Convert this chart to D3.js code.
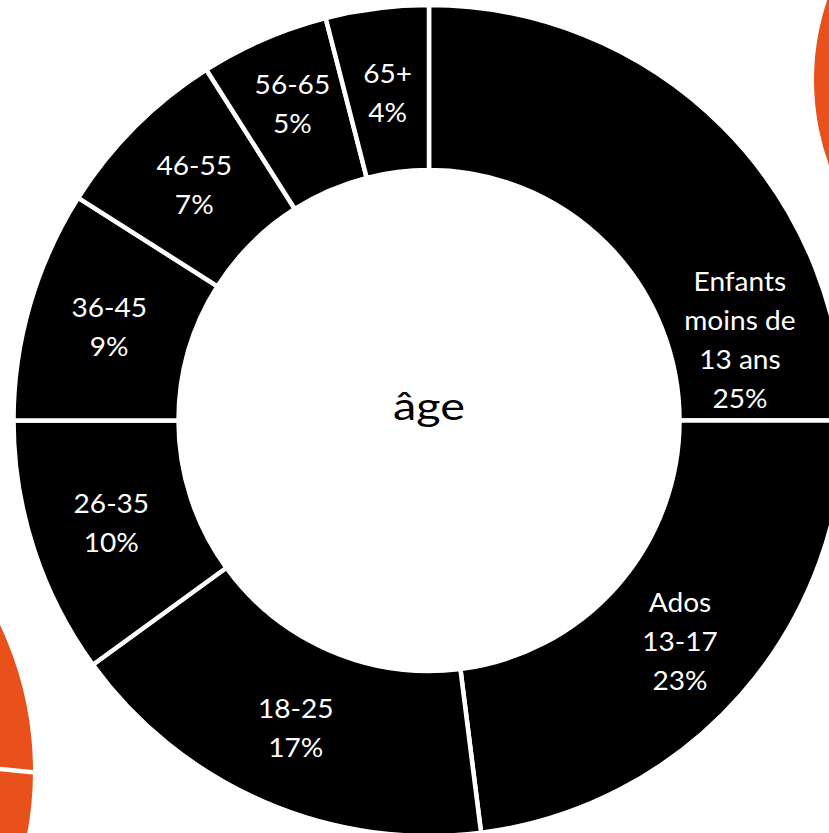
<!DOCTYPE html>
<html>
<head>
<meta charset="utf-8">
<script src="https://cdn.jsdelivr.net/npm/d3@7"></script>
<style>
  html, body { margin: 0; padding: 0; background: #fff; }
  svg { display: block; }
</style>
</head>
<body>
<svg id="chart" width="829" height="833"></svg>
<script>
// data
var categories = ['Enfants\nmoins de\n13 ans', 'Ados\n13-17', '18-25', '26-35', '36-45', '46-55', '56-65', '65+']
var values = [25, 23, 17, 10, 9, 7, 5, 4]
var title = 'âge'

// layout
var width = 829, height = 833
var cx = 429, cy = 420.5
var outerR = 415.5, innerR = 250.5
// label distance from centre, slice by slice (as placed in the original)
var labelRadius = [321, 334.6, 335.6, 334, 333, 332, 344, 330]
var lineStep = 39
var colorSlice = '#000000'
var colorOrange = '#E8501C'
var fontFamily = 'Lato, "Open Sans", sans-serif'

var svg = d3.select('#chart')

// neighbouring orange donuts, cut by the frame
svg.append('circle').attr('cx', 1064).attr('cy', 80).attr('r', 250).attr('fill', colorOrange)
svg.append('circle').attr('cx', -306).attr('cy', 771).attr('r', 339).attr('fill', colorOrange)
svg.append('line')
  .attr('x1', -10).attr('y1', 768).attr('x2', 40).attr('y2', 773)
  .attr('stroke', '#fff').attr('stroke-width', 4.5)

var g = svg.append('g').attr('transform', 'translate(' + cx + ',' + cy + ')')

var pie = d3.pie().sort(null).value(function (d) { return d })
var arcs = pie(values)
var arc = d3.arc().innerRadius(innerR).outerRadius(outerR)

g.selectAll('path.slice')
  .data(arcs)
  .enter().append('path')
  .attr('class', 'slice')
  .attr('d', arc)
  .attr('fill', colorSlice)
  .attr('stroke', '#fff')
  .attr('stroke-width', 4.5)

// label angle: mid of the slice, the first one was pushed toward the visible side
function labelPos(d, i) {
  var a = (d.startAngle + d.endAngle) / 2
  if (i === 0) a = 75.6 * Math.PI / 180
  var r = labelRadius[i]
  return [r * Math.sin(a), -r * Math.cos(a)]
}

g.selectAll('g.label')
  .data(arcs)
  .enter().append('g')
  .attr('class', 'label')
  .attr('transform', function (d, i) {
    var p = labelPos(d, i)
    return 'translate(' + p[0] + ',' + p[1] + ') scale(1.08,1)'
  })
  .each(function (d, i) {
    var lines = categories[i].split('\n').concat([values[i] + '%'])
    var n = lines.length
    d3.select(this).append('text')
      .attr('fill', '#fff')
      .attr('font-family', fontFamily)
      .attr('font-size', 26)
      .attr('text-anchor', 'middle')
      .selectAll('tspan')
      .data(lines)
      .enter().append('tspan')
      .attr('x', 0)
      .attr('y', function (l, k) { return (k - (n - 1) / 2) * lineStep })
      .attr('dy', '0.35em')
      .text(function (l) { return l })
  })

g.append('text')
  .attr('transform', 'translate(0,-0.5) scale(1.2,1)')
  .attr('text-anchor', 'middle')
  .attr('font-family', fontFamily)
  .attr('font-size', 39)
  .attr('fill', '#000')
  .text(title)
</script>
</body>
</html>
